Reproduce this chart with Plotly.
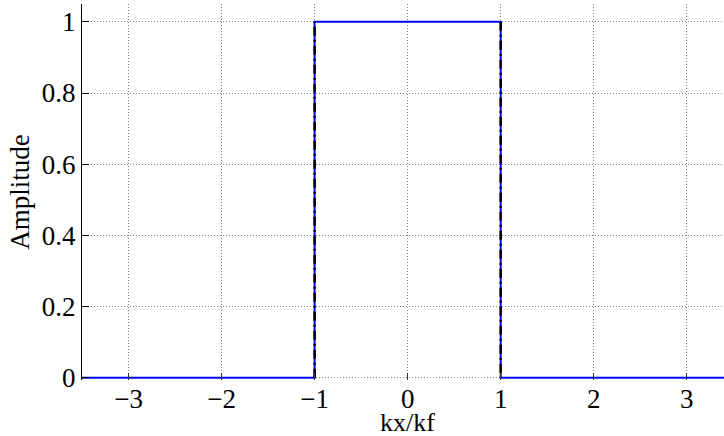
import plotly.graph_objects as go

# Data
x_blue = [-3.5, -1.0, -1.0, 1.0, 1.0, 3.5]
y_blue = [0, 0, 1, 1, 0, 0]
x_black = [-1.0, -1.0, None, 1.0, 1.0]
y_black = [0, 1, None, 1, 0]
x_ticks = [-3, -2, -1, 0, 1, 2, 3]
x_tick_labels = ["\u22123", "\u22122", "\u22121", "0", "1", "2", "3"]
y_ticks = [0, 0.2, 0.4, 0.6, 0.8, 1]
y_tick_labels = ["0", "0.2", "0.4", "0.6", "0.8", "1"]

fig = go.Figure()
fig.add_trace(go.Scatter(x=x_blue, y=y_blue, mode="lines",
                         line=dict(color="#0000ff", width=2), showlegend=False))
fig.add_trace(go.Scatter(x=x_black, y=y_black, mode="lines",
                         line=dict(color="black", width=2.5, dash="9px,4px,2px,4px"), showlegend=False))

font = dict(family="Liberation Serif", size=27, color="black")
fig.update_layout(
    width=724, height=436,
    margin=dict(l=82, r=0, t=4, b=56),
    paper_bgcolor="white", plot_bgcolor="white",
    font=font,
    xaxis=dict(range=[-3.5, 3.4], tickvals=x_ticks, ticktext=x_tick_labels,
               showgrid=True, gridcolor="#808080", griddash="1px,2px", gridwidth=1,
               ticks="inside", ticklen=7, tickcolor="#333333", showline=False, zeroline=False,
               tickfont=font, automargin=False),
    yaxis=dict(range=[-0.006, 1.05], tickvals=y_ticks, ticktext=y_tick_labels,
               showgrid=True, gridcolor="#808080", griddash="1px,2px", gridwidth=1,
               ticks="inside", ticklen=7, tickcolor="black", showline=True, linecolor="black", linewidth=1,
               zeroline=False, tickfont=font, automargin=False,
               title=dict(text="Amplitude", font=font, standoff=4)),
)
fig.add_annotation(text="kx/kf", xref="x", yref="paper", x=0, y=0, yshift=-42,
                   showarrow=False, font=dict(family="Liberation Serif", size=26, color="black"),
                   yanchor="middle")
fig.write_html("out.html", config={"displayModeBar": False},
               post_script="document.body.style.margin='0';document.body.style.overflow='hidden';")
